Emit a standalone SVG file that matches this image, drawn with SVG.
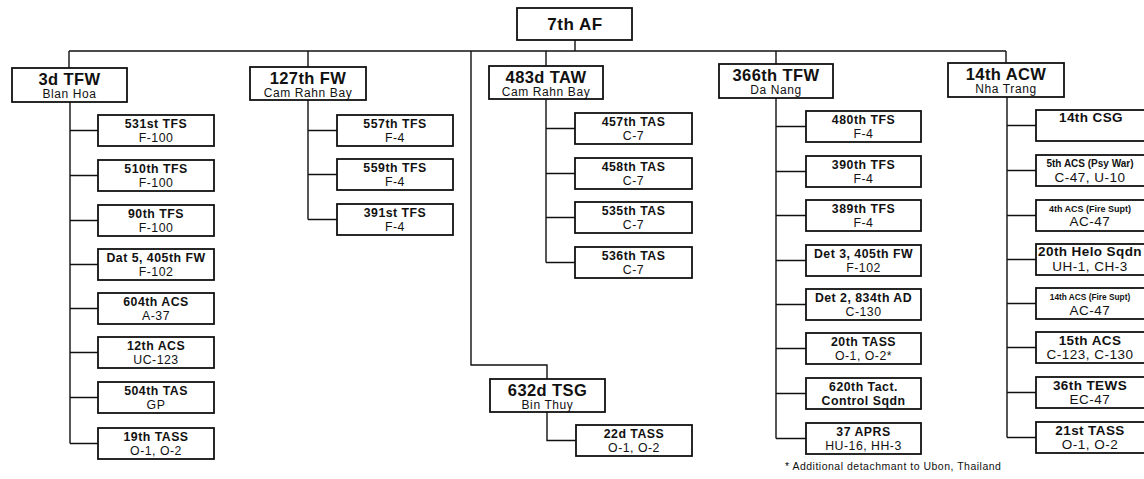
<svg xmlns="http://www.w3.org/2000/svg" width="1144" height="479" viewBox="0 0 1144 479">
<style>
text{font-family:"Liberation Sans",Arial,sans-serif;fill:#111;text-anchor:middle}
.box{fill:#fff;stroke:#111;stroke-width:1.8}
.ln{fill:none;stroke:#111;stroke-width:1.4}
.top{font-size:17px;font-weight:bold;letter-spacing:0.5px}
.h1{font-size:16.5px;font-weight:bold;letter-spacing:0.4px}
.h2{font-size:12px;letter-spacing:0.6px}
.c1{font-size:12.3px;font-weight:bold;letter-spacing:0.5px}
.c2{font-size:12.3px;letter-spacing:0.5px}
.b1{font-size:13.5px;font-weight:bold;letter-spacing:0.4px}
.b2{font-size:13.5px;letter-spacing:0.5px}
.s1{font-size:10px;font-weight:bold}
.s2{font-size:9px;font-weight:bold}
.s3{font-size:8.3px;font-weight:bold}
.fn{font-size:10.5px;letter-spacing:0.5px;text-anchor:start}
</style>
<rect width="1144" height="479" fill="#fff"/>
<g id="connectors">
<path class="ln" d="M575 40V51M69 51H1006M69 51V68M308 51V67M546 51V66M776 51V64M1006 51V63"/>
<path class="ln" d="M471 51V365H547V379M547 412V440.5H576"/>
<path class="ln" d="M70 102V443.5M70 130.5H98M70 175.5H98M70 220.5H98M70 264.5H98M70 308.5H98M70 352.5H98M70 397.5H98M70 443.5H98"/>
<path class="ln" d="M308 100V219.5M308 130.5H337M308 174.5H337M308 219.5H337"/>
<path class="ln" d="M546 99V262.5M546 128.5H575M546 173.5H575M546 217.5H575M546 262.5H575"/>
<path class="ln" d="M776 98V438.5M776 126.5H806M776 171.5H806M776 215.5H806M776 260.5H806M776 304.5H806M776 348.5H806M776 393.5H806M776 438.5H806"/>
<path class="ln" d="M1007 97V437.5M1007 125.5H1036M1007 170.5H1036M1007 215.5H1036M1007 259.5H1036M1007 303.5H1036M1007 347.5H1036M1007 392.5H1036M1007 437.5H1036"/>
</g>
<g id="n7af"><rect class="box" x="517" y="8" width="115" height="32"/><text class="top" x="575" y="30">7th AF</text></g>
<g id="n3tfw"><rect class="box" x="12" y="68" width="115" height="34"/><text class="h1" x="69.5" y="84.5">3d TFW</text><text class="h2" x="69.5" y="97.5">Blan Hoa</text></g>
<g id="n127fw"><rect class="box" x="250" y="67" width="116" height="33"/><text class="h1" x="308" y="83.5">127th FW</text><text class="h2" x="308" y="96.5">Cam Rahn Bay</text></g>
<g id="n483taw"><rect class="box" x="489" y="66" width="114" height="33"/><text class="h1" x="546" y="82.5">483d TAW</text><text class="h2" x="546" y="95.5">Cam Rahn Bay</text></g>
<g id="n366tfw"><rect class="box" x="719" y="64" width="114" height="34"/><text class="h1" x="776" y="80.5">366th TFW</text><text class="h2" x="776" y="94">Da Nang</text></g>
<g id="n14acw"><rect class="box" x="948" y="63" width="116" height="34"/><text class="h1" x="1006" y="79.5">14th ACW</text><text class="h2" x="1006" y="93">Nha Trang</text></g>
<g id="n632tsg"><rect class="box" x="490" y="379" width="115" height="33"/><text class="h1" x="547.5" y="395.5">632d TSG</text><text class="h2" x="547.5" y="408.5">Bin Thuy</text></g>
<g id="n22tass"><rect class="box" x="576" y="425" width="116" height="31"/><text class="c1" x="634" y="437.5">22d TASS</text><text class="c2" x="634" y="451.5">O-1, O-2</text></g>

<g id="n531"><rect class="box" x="98" y="115" width="116" height="31"/><text class="c1" x="156" y="127.5">531st TFS</text><text class="c2" x="156" y="141.5">F-100</text></g>
<g id="n510"><rect class="box" x="98" y="160" width="116" height="31"/><text class="c1" x="156" y="172.5">510th TFS</text><text class="c2" x="156" y="186.5">F-100</text></g>
<g id="n90"><rect class="box" x="98" y="205" width="116" height="31"/><text class="c1" x="156" y="217.5">90th TFS</text><text class="c2" x="156" y="231.5">F-100</text></g>
<g id="ndet5"><rect class="box" x="98" y="249" width="116" height="31"/><text class="c1" x="156" y="261.5">Dat 5, 405th FW</text><text class="c2" x="156" y="275.5">F-102</text></g>
<g id="n604"><rect class="box" x="98" y="293" width="116" height="31"/><text class="c1" x="156" y="305.5">604th ACS</text><text class="c2" x="156" y="319.5">A-37</text></g>
<g id="n12acs"><rect class="box" x="98" y="337" width="116" height="31"/><text class="c1" x="156" y="349.5">12th ACS</text><text class="c2" x="156" y="363.5">UC-123</text></g>
<g id="n504"><rect class="box" x="98" y="382" width="116" height="31"/><text class="c1" x="156" y="394.5">504th TAS</text><text class="c2" x="156" y="408.5">GP</text></g>
<g id="n19tass"><rect class="box" x="98" y="428" width="116" height="31"/><text class="c1" x="156" y="440.5">19th TASS</text><text class="c2" x="156" y="454.5">O-1, O-2</text></g>

<g id="n557"><rect class="box" x="337" y="115" width="116" height="31"/><text class="c1" x="395" y="127.5">557th TFS</text><text class="c2" x="395" y="141.5">F-4</text></g>
<g id="n559"><rect class="box" x="337" y="159" width="116" height="31"/><text class="c1" x="395" y="171.5">559th TFS</text><text class="c2" x="395" y="185.5">F-4</text></g>
<g id="n391"><rect class="box" x="337" y="204" width="116" height="31"/><text class="c1" x="395" y="216.5">391st TFS</text><text class="c2" x="395" y="230.5">F-4</text></g>

<g id="n457"><rect class="box" x="575" y="113" width="117" height="31"/><text class="c1" x="633.5" y="125.5">457th TAS</text><text class="c2" x="633.5" y="139.5">C-7</text></g>
<g id="n458"><rect class="box" x="575" y="158" width="117" height="31"/><text class="c1" x="633.5" y="170.5">458th TAS</text><text class="c2" x="633.5" y="184.5">C-7</text></g>
<g id="n535"><rect class="box" x="575" y="202" width="117" height="31"/><text class="c1" x="633.5" y="214.5">535th TAS</text><text class="c2" x="633.5" y="228.5">C-7</text></g>
<g id="n536"><rect class="box" x="575" y="247" width="117" height="31"/><text class="c1" x="633.5" y="259.5">536th TAS</text><text class="c2" x="633.5" y="273.5">C-7</text></g>

<g id="n480"><rect class="box" x="806" y="111" width="115" height="31"/><text class="c1" x="863.5" y="123.5">480th TFS</text><text class="c2" x="863.5" y="137.5">F-4</text></g>
<g id="n390"><rect class="box" x="806" y="156" width="115" height="31"/><text class="c1" x="863.5" y="168.5">390th TFS</text><text class="c2" x="863.5" y="182.5">F-4</text></g>
<g id="n389"><rect class="box" x="806" y="200" width="115" height="31"/><text class="c1" x="863.5" y="212.5">389th TFS</text><text class="c2" x="863.5" y="226.5">F-4</text></g>
<g id="ndet3"><rect class="box" x="806" y="245" width="115" height="31"/><text class="c1" x="863.5" y="257.5">Det 3, 405th FW</text><text class="c2" x="863.5" y="271.5">F-102</text></g>
<g id="ndet2"><rect class="box" x="806" y="289" width="115" height="31"/><text class="c1" x="863.5" y="301.5">Det 2, 834th AD</text><text class="c2" x="863.5" y="315.5">C-130</text></g>
<g id="n20tass"><rect class="box" x="806" y="333" width="115" height="31"/><text class="c1" x="863.5" y="345.5">20th TASS</text><text class="c2" x="863.5" y="359.5">O-1, O-2*</text></g>
<g id="n620"><rect class="box" x="806" y="378" width="115" height="31"/><text class="c1" x="863.5" y="390.5">620th Tact.</text><text class="c1" x="863.5" y="404.5">Control Sqdn</text></g>
<g id="n37aprs"><rect class="box" x="806" y="423" width="115" height="31"/><text class="c1" x="863.5" y="435.5">37 APRS</text><text class="c2" x="863.5" y="449.5">HU-16, HH-3</text></g>

<g id="n14csg"><rect class="box" x="1036" y="110" width="118" height="31"/><text class="b1" x="1091" y="122">14th CSG</text></g>
<g id="n5acs"><rect class="box" x="1036" y="155" width="118" height="31"/><text class="s1" x="1090" y="167">5th ACS (Psy War)</text><text class="b2" x="1090" y="182">C-47, U-10</text></g>
<g id="n4acs"><rect class="box" x="1036" y="200" width="118" height="31"/><text class="s2" x="1090" y="212">4th ACS (Fire Supt)</text><text class="b2" x="1090" y="226">AC-47</text></g>
<g id="n20helo"><rect class="box" x="1036" y="244" width="118" height="31"/><text class="b1" x="1090" y="256">20th Helo Sqdn</text><text class="b2" x="1090" y="271">UH-1, CH-3</text></g>
<g id="n14acs"><rect class="box" x="1036" y="288" width="118" height="31"/><text class="s3" x="1090" y="300">14th ACS (Fire Supt)</text><text class="b2" x="1090" y="315">AC-47</text></g>
<g id="n15acs"><rect class="box" x="1036" y="332" width="118" height="31"/><text class="b1" x="1090" y="345">15th ACS</text><text class="b2" x="1090" y="359">C-123, C-130</text></g>
<g id="n36tews"><rect class="box" x="1036" y="377" width="118" height="31"/><text class="b1" x="1090" y="390">36th TEWS</text><text class="b2" x="1090" y="404">EC-47</text></g>
<g id="n21tass"><rect class="box" x="1036" y="422" width="118" height="31"/><text class="b1" x="1090" y="435">21st TASS</text><text class="b2" x="1090" y="449">O-1, O-2</text></g>

<text class="fn" x="785" y="470">* Additional detachmant to Ubon, Thailand</text>
</svg>
